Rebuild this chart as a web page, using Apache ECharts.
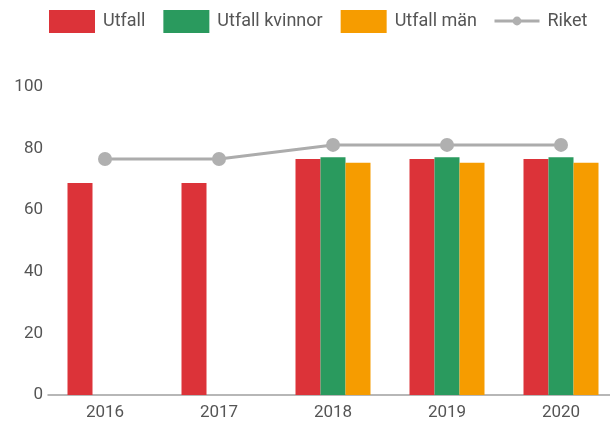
<!DOCTYPE html>
<html>
<head>
<meta charset="utf-8">
<script src="https://cdn.jsdelivr.net/npm/echarts@6/dist/echarts.min.js"></script>
<style>
  html, body { margin: 0; padding: 0; background: #fff; }
  #chart { width: 610px; height: 424px; }
</style>
</head>
<body>
<div id="chart"></div>
<script>
var years = ['2016', '2017', '2018', '2019', '2020'];
var utfall = [68.8, 68.8, 76.6, 76.6, 76.6];
var utfallKvinnor = [null, null, 77.2, 77.2, 77.2];
var utfallMan = [null, null, 75.4, 75.4, 75.4];
var riket = [76.6, 76.6, 81.2, 81.2, 81.2];
var yTicks = [0, 20, 40, 60, 80, 100];

var chart = echarts.init(document.getElementById('chart'));

var legendText = { fontSize: 18, color: '#555', padding: [0, 0, 0, 3] };

var option = {
    animation: false,
    textStyle: { fontFamily: 'Roboto' },
    legend: [
        {
            left: 49,
            top: 10,
            padding: 0,
            itemWidth: 46,
            itemHeight: 23,
            itemGap: 18,
            icon: 'rect',
            textStyle: legendText,
            data: ['Utfall', 'Utfall kvinnor', 'Utfall män']
        },
        {
            // Riket har mindre symbol i förklaringen
            left: 493,
            top: 12,
            padding: 0,
            itemWidth: 45,
            itemHeight: 11,
            lineStyle: { width: 3 },
            textStyle: legendText,
            data: ['Riket']
        }
    ],
    grid: { left: 48, top: 87, width: 570, bottom: 29, outerBoundsMode: 'none' },
    xAxis: {
        type: 'category',
        data: years,
        axisTick: { show: false },
        axisLine: { lineStyle: { color: '#a0a0a0', width: 1.5 } },
        axisLabel: { fontSize: 17, color: '#555', margin: 9 }
    },
    yAxis: {
        type: 'value',
        min: yTicks[0],
        max: yTicks[yTicks.length - 1],
        interval: 20,
        splitLine: { show: false },
        axisLine: { show: false },
        axisTick: { show: false },
        axisLabel: { fontSize: 17, color: '#555', margin: 5 }
    },
    series: [
        {
            name: 'Utfall', type: 'bar', data: utfall,
            barWidth: 25, barGap: '0%',
            itemStyle: { color: '#dc3339' }
        },
        {
            name: 'Utfall kvinnor', type: 'bar', data: utfallKvinnor,
            barWidth: 25, barGap: '0%',
            itemStyle: { color: '#2a9a5e' }
        },
        {
            name: 'Utfall män', type: 'bar', data: utfallMan,
            barWidth: 25, barGap: '0%',
            itemStyle: { color: '#f69c00' }
        },
        {
            name: 'Riket', type: 'line', data: riket,
            symbol: 'circle', symbolSize: 14,
            lineStyle: { color: '#acacac', width: 3 },
            itemStyle: { color: '#b0b0b0' },
            z: 5
        }
    ]
};

chart.setOption(option);
</script>
</body>
</html>
